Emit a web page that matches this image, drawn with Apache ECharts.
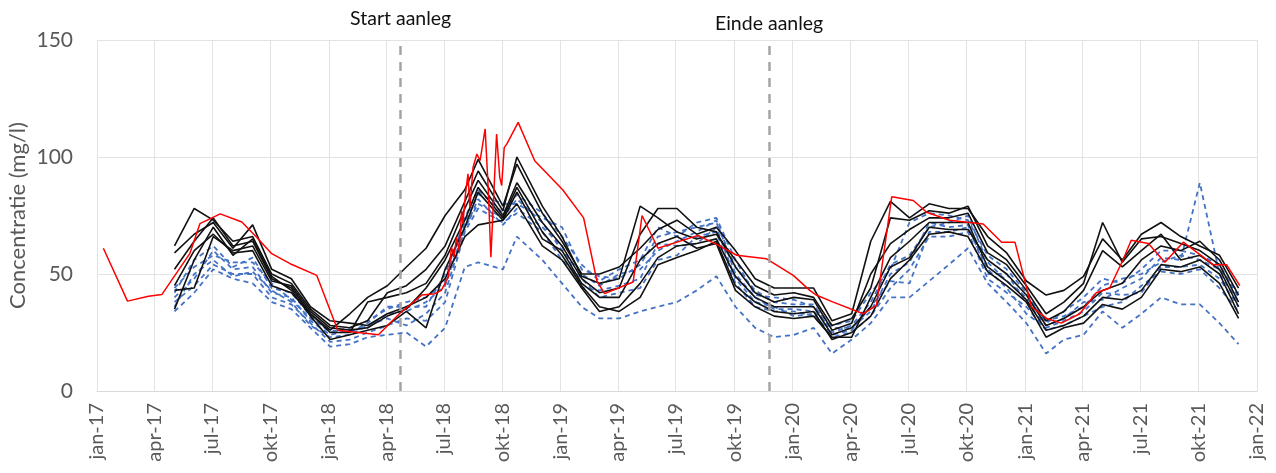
<!DOCTYPE html>
<html>
<head>
<meta charset="utf-8">
<script src="https://cdn.jsdelivr.net/npm/echarts@6/dist/echarts.min.js"></script>
<style>
  html, body { margin: 0; padding: 0; background: #ffffff; }
  #chart { width: 1276px; height: 473px; }
</style>
</head>
<body>
<div id="chart"></div>
<script>
// Quarterly ticks on the date axis
const tickDates = ['2017-01-01','2017-04-01','2017-07-01','2017-10-01','2018-01-01','2018-04-01','2018-07-01',
  '2018-10-01','2019-01-01','2019-04-01','2019-07-01','2019-10-01','2020-01-01','2020-04-01','2020-07-01',
  '2020-10-01','2021-01-01','2021-04-01','2021-07-01','2021-10-01','2022-01-01'];
const tickLabels = ['jan-17','apr-17','jul-17','okt-17','jan-18','apr-18','jul-18','okt-18','jan-19','apr-19',
  'jul-19','okt-19','jan-20','apr-20','jul-20','okt-20','jan-21','apr-21','jul-21','okt-21','jan-22'];

// Sampling dates of the measuring points (roughly monthly)
const months = ['2017-05-03','2017-06-03','2017-07-03','2017-08-03','2017-09-03','2017-10-03','2017-11-03','2017-12-03',
  '2018-01-03','2018-02-03','2018-03-03','2018-04-03','2018-05-03','2018-06-03','2018-07-03','2018-08-03','2018-08-24',
  '2018-10-02','2018-10-24','2018-12-03','2019-01-03','2019-02-03','2019-03-03','2019-04-03','2019-05-06','2019-06-03',
  '2019-07-03','2019-08-03','2019-09-03','2019-10-03','2019-11-03','2019-12-03','2020-01-03','2020-02-03','2020-03-03',
  '2020-04-03','2020-05-03','2020-06-03','2020-07-03','2020-08-03','2020-09-03','2020-10-03','2020-11-03','2020-12-03',
  '2021-01-03','2021-02-03','2021-03-03','2021-04-03','2021-05-03','2021-06-03','2021-07-03','2021-08-03','2021-09-03',
  '2021-10-03','2021-11-03','2021-12-03'];

// Concentration (mg/l), solid black points
const blackA = [62,78,73,64,66,50,46,35,28,27,30,42,45,52,62,81,94,77,100,79,66,49,46,48,79,74,68,65,67,56,45,41,42,40,28,31,44,74,73,77,76,79,62,56,45,33,38,46,72,55,65,66,63,60,54,38];
const blackB = [59,67,72,61,71,52,48,36,30,29,28,33,36,40,48,66,71,73,80,62,56,44,34,36,46,57,62,63,65,49,40,36,36,36,24,27,36,53,57,70,69,69,56,50,41,28,31,36,43,46,56,62,60,64,56,41];
const blackC = [52,64,74,62,64,48,44,33,26,33,40,45,53,61,75,86,99,79,97,76,64,50,50,53,61,69,73,67,70,60,48,44,44,44,30,33,64,81,74,80,78,78,66,59,47,41,43,49,65,56,67,72,66,62,58,44];
const blackD = [43,44,66,60,62,47,45,34,27,26,27,32,35,44,56,73,87,74,87,68,58,45,36,34,40,54,57,60,64,45,38,34,33,34,22,25,32,48,56,67,68,66,51,45,38,23,27,29,37,35,40,52,51,53,46,31];
const blackE = [35,56,70,58,65,49,43,32,22,24,26,28,34,27,52,70,85,73,85,65,60,46,40,40,56,63,66,61,63,43,36,32,31,32,23,23,40,57,64,72,72,72,53,47,39,26,28,32,40,39,43,54,53,56,50,33];
const blackF = [45,60,67,59,60,45,42,33,25,25,38,40,42,46,58,78,90,75,89,72,62,48,42,44,67,78,78,70,68,53,42,38,40,39,26,29,50,63,69,74,74,76,59,54,43,30,34,43,60,53,60,67,56,58,52,36];

// Concentration (mg/l), dashed blue points
const blueA = [42,56,62,53,57,44,42,32,25,27,30,35,38,40,47,74,86,76,84,76,66,54,47,52,56,70,66,72,74,56,41,40,39,36,28,30,42,52,72,76,75,73,58,52,42,29,34,40,48,46,52,60,60,58,54,40];
const blueB = [44,53,58,55,55,46,39,31,26,25,29,36,36,36,50,72,84,80,80,74,70,52,49,48,54,66,68,70,72,53,43,38,37,37,25,28,38,54,58,70,72,75,55,47,40,30,32,36,45,48,50,55,58,56,52,42];
const blueC = [40,48,60,52,53,42,40,30,24,26,27,33,34,38,45,70,80,74,82,72,60,50,45,50,52,60,64,68,73,50,40,35,35,34,27,27,34,50,55,72,70,71,50,50,38,28,31,38,39,44,48,57,56,89,50,38];
const blueD = [36,50,56,49,51,43,38,28,23,24,28,31,28,33,42,69,82,71,78,70,62,44,43,45,48,63,62,63,70,48,38,36,32,33,24,26,36,47,46,68,68,70,52,44,33,27,30,34,42,41,42,53,53,54,48,36];
const blueE = [38,45,54,50,50,40,37,29,21,22,25,28,31,30,38,68,78,72,76,68,56,48,40,42,44,56,58,66,68,46,36,34,34,32,23,25,32,44,52,66,66,68,48,42,36,26,28,32,36,38,45,51,50,52,44,34];
const blueF = [34,42,52,48,46,38,35,27,19,20,23,24,25,19,27,53,55,52,66,56,46,36,31,31,34,36,38,43,49,36,27,23,24,27,16,22,29,40,40,47,54,61,46,38,29,16,22,24,34,27,33,40,37,37,29,20];

// Red reference point, own sampling dates
const redDates = ['2017-01-11','2017-02-18','2017-03-23','2017-04-13','2017-05-27','2017-06-12','2017-07-14','2017-08-17',
  '2017-09-09','2017-10-03','2017-11-01','2017-12-13','2018-01-15','2018-03-20','2018-04-22','2018-05-27','2018-06-17',
  '2018-06-27','2018-07-08','2018-07-13','2018-07-17','2018-07-21','2018-07-25','2018-07-29','2018-07-31','2018-08-04',
  '2018-08-08','2018-08-11','2018-08-16','2018-08-22','2018-08-27','2018-09-04','2018-09-09','2018-09-13','2018-09-16',
  '2018-09-22','2018-09-27','2018-09-30','2018-10-04','2018-10-08','2018-10-26','2018-11-21','2019-01-04','2019-02-06',
  '2019-02-27','2019-03-11','2019-04-25','2019-05-09','2019-06-03','2019-08-05','2019-09-08','2019-10-05','2019-11-21',
  '2020-01-02','2020-01-28','2020-02-08','2020-03-05','2020-04-21','2020-05-12','2020-06-05','2020-07-09','2020-07-30',
  '2020-09-04','2020-10-27','2020-11-25','2020-12-16','2021-01-11','2021-02-04','2021-02-27','2021-03-28','2021-04-23',
  '2021-05-14','2021-06-04','2021-06-17','2021-07-14','2021-08-09','2021-09-07','2021-10-24','2021-11-14','2021-12-05'];
const redValues = [61,38.4,40.5,41.2,58.7,71.5,75.7,72.2,65.8,58.7,54.4,49.4,26,24,33,41,41.6,
  43,48.7,61.5,57.2,65.8,60,77,71.5,84.2,92.8,78.5,95.6,101.3,98.4,112,85.7,57.2,56.5,
  109.8,91.3,87.8,104,105.5,114.8,98.4,86,74,47,41.6,46.6,75,61,66.5,62,58,56.5,
  49.4,43,40.9,38,33,36.6,83,81.4,76.4,73,71.4,63.6,63.6,36,31,29,33,42,
  44,56,64.4,63,55,63.6,54,54,45];

// Construction period markers
const phaseDates = ['2018-04-24', '2019-11-25'];
const phaseLabels = ['Start aanleg', 'Einde aanleg'];

const FONT = 'Lato, "Open Sans", sans-serif';
const toTime = d => new Date(d + 'T00:00:00').getTime();
const tickTimes = tickDates.map(toTime);

function pairs(dates, values) {
  return dates.map((d, i) => [toTime(d), values[i]]);
}

const blackSets = [blackA, blackB, blackC, blackD, blackE, blackF];
const blueSets = [blueA, blueB, blueC, blueD, blueE, blueF];

const series = [];
blueSets.forEach((vals, i) => {
  series.push({
    name: 'blauw' + (i + 1), type: 'line', showSymbol: false, silent: true,
    data: pairs(months, vals),
    lineStyle: { color: '#4472C4', width: 1.8, type: [5, 4] },
    z: 2
  });
});
blackSets.forEach((vals, i) => {
  series.push({
    name: 'zwart' + (i + 1), type: 'line', showSymbol: false, silent: true,
    data: pairs(months, vals),
    lineStyle: { color: '#111111', width: 1.6 },
    z: 3
  });
});
series.push({
  name: 'rood', type: 'line', showSymbol: false, silent: true,
  data: pairs(redDates, redValues),
  lineStyle: { color: '#FF0000', width: 1.5 },
  z: 4,
  markLine: {
    silent: true,
    symbol: ['none', 'none'],
    lineStyle: { color: '#A5A5A5', width: 2.5, type: [9, 7] },
    data: phaseDates.map((d, i) => ({
      xAxis: toTime(d),
      label: {
        show: true, position: 'end', formatter: phaseLabels[i],
        distance: i === 0 ? 11 : 6,
        color: '#111111', fontFamily: FONT, fontSize: 19.5
      }
    }))
  }
});

function labelFor(v) {
  let best = 0, diff = Infinity;
  tickTimes.forEach((t, i) => { const d = Math.abs(t - v); if (d < diff) { diff = d; best = i; } });
  return tickLabels[best];
}

const chart = echarts.init(document.getElementById('chart'), null, { renderer: 'canvas' });
chart.setOption({
  animation: false,
  backgroundColor: '#ffffff',
  grid: { left: 97, right: 19, top: 40, bottom: 82, containLabel: false, outerBoundsMode: 'none' },
  xAxis: {
    type: 'value',
    min: tickTimes[0],
    max: tickTimes[tickTimes.length - 1],
    axisLine: { show: true, lineStyle: { color: '#D9D9D9', width: 1 } },
    axisTick: { show: false, customValues: tickTimes },
    splitLine: { show: true, lineStyle: { color: '#E3E3E3', width: 1 } },
    axisLabel: {
      customValues: tickTimes,
      rotate: 90,
      margin: 12,
      color: '#595959',
      fontFamily: FONT,
      fontSize: 20,
      formatter: labelFor
    }
  },
  yAxis: {
    type: 'value',
    min: 0, max: 150, interval: 50,
    name: 'Concentratie (mg/l)',
    nameLocation: 'middle',
    nameGap: 68,
    nameRotate: 90,
    nameMoveOverlap: false,
    nameTextStyle: { color: '#595959', fontFamily: FONT, fontSize: 22 },
    axisLine: { show: false },
    axisTick: { show: false },
    splitLine: { show: true, lineStyle: { color: '#E3E3E3', width: 1 } },
    axisLabel: { color: '#595959', fontFamily: FONT, fontSize: 21, margin: 24 }
  },
  series: series
});
</script>
</body>
</html>
